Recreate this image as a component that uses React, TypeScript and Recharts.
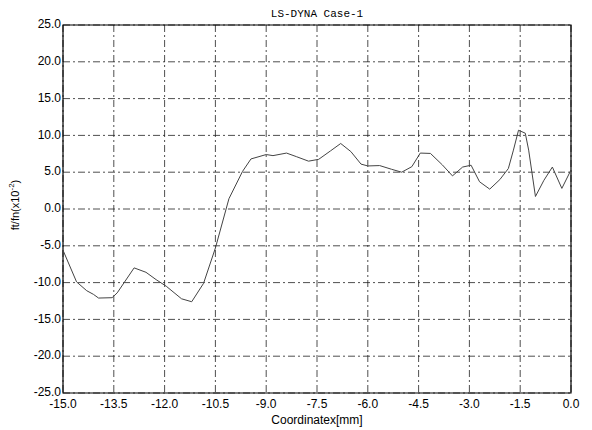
import { LineChart, Line, XAxis, YAxis, CartesianGrid, ReferenceArea } from "recharts";

// coordinate along the specimen [mm]
const coordX = [
  -15.0, -14.6, -14.3, -14.1, -13.95, -13.55, -13.4, -12.9, -12.55, -12.25,
  -11.95, -11.5, -11.2, -10.85, -10.5, -10.1, -9.7, -9.45, -9.0, -8.8,
  -8.4, -8.1, -7.75, -7.45, -7.1, -6.8, -6.5, -6.2, -6.0, -5.65,
  -5.3, -5.0, -4.7, -4.45, -4.15, -3.8, -3.5, -3.2, -2.95, -2.7,
  -2.4, -2.1, -1.85, -1.7, -1.55, -1.35, -1.25, -1.05, -0.8, -0.55,
  -0.27, 0.0,
];

// ft/fn (x10^-2)
const ratio = [
  -5.6, -9.9, -11.1, -11.6, -12.1, -12.05, -11.4, -8.0, -8.6, -9.6,
  -10.5, -12.2, -12.6, -10.1, -5.3, 1.4, 5.1, 6.8, 7.4, 7.25,
  7.6, 7.1, 6.5, 6.75, 7.9, 8.9, 7.8, 6.1, 5.85, 5.9,
  5.4, 5.0, 5.75, 7.6, 7.55, 6.0, 4.5, 5.7, 5.95, 3.7,
  2.7, 4.0, 5.5, 8.0, 10.7, 10.3, 8.0, 1.7, 3.9, 5.7,
  2.8, 5.3,
];

const xTicks = [-15, -13.5, -12, -10.5, -9, -7.5, -6, -4.5, -3, -1.5, 0];
const yTicks = [-25, -20, -15, -10, -5, 0, 5, 10, 15, 20, 25];
const xMinor = Array.from({ length: 51 }, (_, i) => Math.round((-15 + i * 0.3) * 10) / 10);
const yMinor = Array.from({ length: 51 }, (_, i) => -25 + i);

const data = coordX.map((x, i) => ({ x, y: ratio[i] }));

const font = "'Liberation Sans', Arial, sans-serif";
const tickStyle = { fontSize: 12, fill: "#000", fontFamily: font };
const blank = () => "";

export default function App() {
  return (
    <div style={{ position: "absolute", left: 0, top: 0, width: 592, height: 430, background: "#fff" }}>
      <div
        style={{
          position: "absolute",
          top: 8,
          left: 0,
          width: 634,
          textAlign: "center",
          fontFamily: "'Liberation Mono', monospace",
          fontSize: 11,
        }}
      >
        LS-DYNA Case-1
      </div>
      <div
        style={{
          position: "absolute",
          left: 14,
          top: 205,
          transform: "translate(-50%, -50%) rotate(-90deg)",
          whiteSpace: "nowrap",
          fontFamily: font,
          fontSize: 11,
        }}
      >
        ft/fn(x10<sup style={{ fontSize: 8 }}>-2</sup>)
      </div>
      <div
        style={{
          position: "absolute",
          top: 413,
          left: 0,
          width: 634,
          textAlign: "center",
          fontFamily: font,
          fontSize: 12,
        }}
      >
        Coordinatex[mm]
      </div>
      <LineChart
        width={592}
        height={430}
        data={data}
        margin={{ top: 25, right: 21, bottom: 0, left: 0 }}
      >
        <CartesianGrid stroke="#222" strokeWidth={0.8} strokeDasharray="7 3 2 3" />
        <XAxis
          dataKey="x"
          type="number"
          domain={[-15, 0]}
          ticks={xTicks}
          tickFormatter={(v: number) => v.toFixed(1)}
          tick={{ ...tickStyle, dy: 4 }}
          tickLine={false}
          axisLine={false}
          tickSize={0}
          height={37}
          interval={0}
        />
        <XAxis
          xAxisId="mb"
          dataKey="x"
          type="number"
          domain={[-15, 0]}
          allowDataOverflow
          ticks={xMinor}
          orientation="bottom"
          mirror
          tickSize={3}
          tickFormatter={blank}
          axisLine={false}
          stroke="#000"
          height={0}
          interval={0}
        />
        <XAxis
          xAxisId="mt"
          dataKey="x"
          type="number"
          domain={[-15, 0]}
          allowDataOverflow
          ticks={xMinor}
          orientation="top"
          mirror
          tickSize={3}
          tickFormatter={blank}
          axisLine={false}
          stroke="#000"
          height={0}
          interval={0}
        />
        <YAxis
          yAxisId="ml"
          type="number"
          domain={[-25, 25]}
          allowDataOverflow
          ticks={yMinor}
          orientation="left"
          mirror
          tickSize={3}
          tickFormatter={blank}
          axisLine={false}
          stroke="#000"
          width={0}
          interval={0}
        />
        <YAxis
          type="number"
          domain={[-25, 25]}
          ticks={yTicks}
          tickFormatter={(v: number) => v.toFixed(1)}
          tick={{ ...tickStyle, dy: -1 }}
          tickLine={false}
          axisLine={false}
          tickSize={0}
          tickMargin={2}
          width={63}
          interval={0}
        />
        <YAxis
          yAxisId="mr"
          type="number"
          domain={[-25, 25]}
          allowDataOverflow
          ticks={yMinor}
          orientation="right"
          mirror
          tickSize={3}
          tickFormatter={blank}
          axisLine={false}
          stroke="#000"
          width={0}
          interval={0}
        />
        <ReferenceArea x1={-15} x2={0} y1={-25} y2={25} fill="none" stroke="#000" strokeWidth={1.2} fillOpacity={0} />
        {/* hidden copies so the minor-tick axes get registered */}
        <Line xAxisId="mb" yAxisId="ml" dataKey="y" stroke="none" dot={false} isAnimationActive={false} />
        <Line xAxisId="mt" yAxisId="mr" dataKey="y" stroke="none" dot={false} isAnimationActive={false} />
        <Line
          type="linear"
          dataKey="y"
          stroke="#444"
          strokeWidth={1}
          dot={false}
          isAnimationActive={false}
        />
      </LineChart>
    </div>
  );
}
